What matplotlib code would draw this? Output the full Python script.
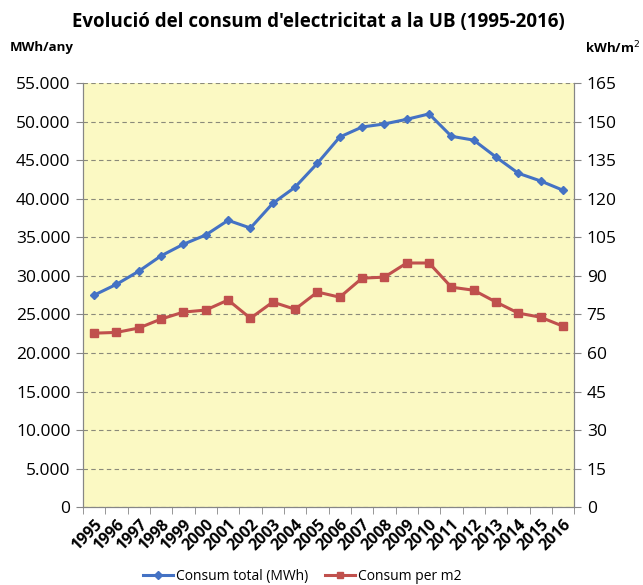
import matplotlib.pyplot as plt
from matplotlib.ticker import FuncFormatter, FixedLocator

plt.rcParams['font.family'] = ['Open Sans', 'DejaVu Sans']

years = list(range(1995, 2017))
consum_total = [27500, 28900, 30600, 32600, 34100, 35300, 37200, 36200, 39400, 41500, 44600,
                48000, 49300, 49700, 50300, 51000, 48100, 47600, 45400, 43300, 42300, 41100]
consum_m2 = [67.7, 68.0, 69.7, 73.2, 75.9, 76.7, 80.6, 73.5, 79.8, 77.0, 83.7,
             81.7, 89.1, 89.5, 95.0, 95.0, 85.6, 84.4, 79.8, 75.5, 73.9, 70.4]

blue = '#4472C4'
red = '#C0504D'
grey = '#868686'

fig = plt.figure(figsize=(6.43, 5.85), dpi=100)
ax = fig.add_axes([0.129, 0.133, 0.764, 0.725])
ax.set_facecolor('#FBF9C3')
ax2 = ax.twinx()

x = list(range(len(years)))
l1, = ax.plot(x, consum_total, color=blue, lw=2.2, marker='D', ms=4.5, label='Consum total (MWh)', zorder=3)
l2, = ax2.plot(x, consum_m2, color=red, lw=2.2, marker='s', ms=6, label='Consum per m2', zorder=3)

ax.set_xlim(-0.5, len(years) - 0.5)
ax.set_ylim(0, 55000)
ax2.set_ylim(0, 165)
ax.set_yticks(range(0, 55001, 5000))
ax2.set_yticks(range(0, 166, 15))
ax.yaxis.set_major_formatter(FuncFormatter(lambda v, p: '{:,.0f}'.format(v).replace(',', '.')))

ax.set_xticks(x)
ax.set_xticklabels([str(y) for y in years], rotation=45, ha='right', rotation_mode='anchor',
                   fontsize=11.5, fontweight='bold')
ax.xaxis.set_minor_locator(FixedLocator([i - 0.5 for i in range(len(years) + 1)]))
ax.tick_params(axis='x', which='major', length=0, pad=7)
ax.tick_params(axis='x', which='minor', length=5, color=grey)
ax.tick_params(axis='y', length=5, color=grey, labelsize=12.5, pad=4)
ax2.tick_params(axis='y', length=5, color=grey, labelsize=12.5, pad=4)

ax.grid(axis='y', linestyle=(0, (4, 3)), color='#8a8a7a', lw=0.8)
for a in (ax, ax2):
    a.spines['top'].set_visible(False)
    for s in ('left', 'right', 'bottom'):
        a.spines[s].set_color(grey)

fig.text(0.495, 0.962, "Evolució del consum d'electricitat a la UB (1995-2016)",
         ha='center', va='center', fontsize=13.5, fontweight='bold')
fig.text(0.015, 0.918, 'MWh/any', ha='left', va='center', fontsize=9.5, fontweight='bold')
fig.text(0.995, 0.918, 'kWh/m$^2$', ha='right', va='center', fontsize=9.5, fontweight='bold')

fig.legend(handles=[l1, l2], loc='center', bbox_to_anchor=(0.47, 0.014), ncol=2, frameon=False,
           fontsize=10, handlelength=2.2, columnspacing=1.2, handletextpad=0.2,
           markerscale=0.8)

fig.savefig('out.png', dpi=100)
